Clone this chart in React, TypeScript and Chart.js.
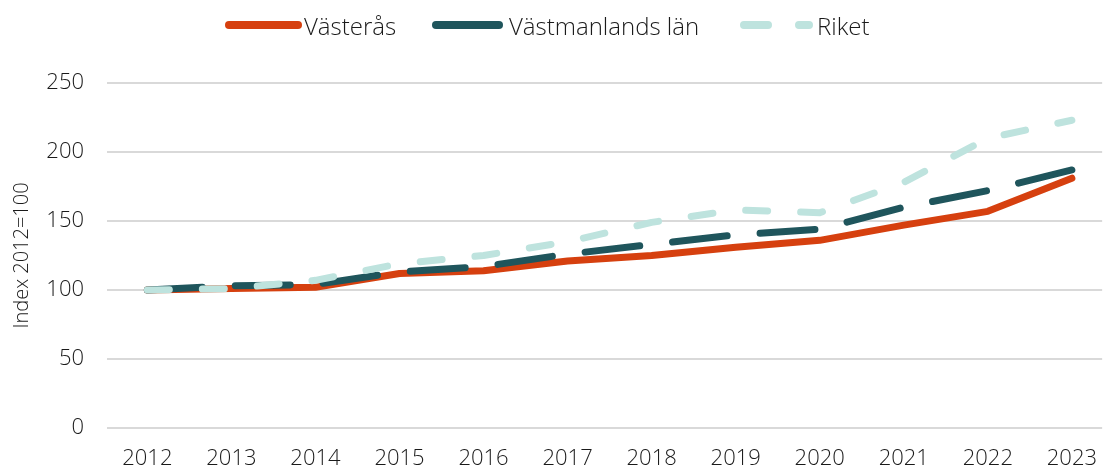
import React, { useEffect, useRef } from "react";
import { Chart, registerables } from "chart.js";
Chart.register(...registerables);

const years = [2012, 2013, 2014, 2015, 2016, 2017, 2018, 2019, 2020, 2021, 2022, 2023];
const vasteras = [100, 101, 102, 112, 114, 121, 125, 131, 136, 147, 157, 181];
const vastmanland = [100, 103, 104, 113, 117, 126, 133, 140, 144, 160, 172, 187];
const riket = [100, 101, 107, 119, 125, 135, 149, 158, 156, 178, 210, 223];
const yTicks = [0, 50, 100, 150, 200, 250];

const seriesNames = ["Västerås", "Västmanlands län", "Riket"];
const colors = ["#D6400F", "#1F555C", "#BEE3DE"];
const dashes: number[][] = [[], [55, 33], [22, 33]];

const FONT = "'Open Sans', Lato, sans-serif";
const WEIGHT = 300;
const TEXT = "#1a1a1a";

function LegendItem({ name, color, dash, lineStart, lineLen, textX }: any) {
  const w = 8;
  return (
    <>
      <svg
        width={lineLen + 2}
        height={20}
        style={{ position: "absolute", left: lineStart - 1, top: 15 }}
      >
        <line
          x1={1 + w / 2}
          x2={1 + lineLen - w / 2}
          y1={10}
          y2={10}
          stroke={color}
          strokeWidth={w}
          strokeLinecap="round"
          strokeDasharray={dash.length ? dash.join(",") : undefined}
        />
      </svg>
      <span
        style={{
          position: "absolute",
          left: textX,
          top: 10,
          fontFamily: FONT,
          fontWeight: WEIGHT,
          fontSize: 24,
          color: TEXT,
          whiteSpace: "nowrap",
          lineHeight: "32px",
        }}
      >
        {name}
      </span>
    </>
  );
}

export default function App() {
  const ref = useRef<HTMLCanvasElement>(null);
  useEffect(() => {
    document.body.style.margin = "0";
    const data = [vasteras, vastmanland, riket];
    const chart = new Chart(ref.current!, {
      type: "line",
      data: {
        datasets: seriesNames.map((name, i) => ({
          label: name,
          data: years.map((y, j) => ({ x: y, y: data[i][j] })),
          borderColor: colors[i],
          backgroundColor: colors[i],
          borderWidth: 7,
          borderDash: dashes[i],
          borderCapStyle: "round",
          borderJoinStyle: "round",
          pointRadius: 0,
          tension: 0,
          order: 2 - i,
        })),
      },
      options: {
        animation: false,
        responsive: false,
        maintainAspectRatio: false,
        layout: { padding: { top: 83, right: 0, bottom: 0, left: 0 } },
        plugins: { legend: { display: false }, tooltip: { enabled: false } },
        scales: {
          x: {
            type: "linear",
            min: 2011.52,
            max: 2023.36,
            afterBuildTicks: (s: any) => {
              s.ticks = years.map((v) => ({ value: v }));
            },
            afterFit: (s: any) => {
              s.height = 40;
            },
            grid: { display: false, drawTicks: false },
            border: { display: false },
            ticks: {
              padding: 18,
              font: { family: FONT, size: 22, weight: WEIGHT },
              color: TEXT,
              maxRotation: 0,
              autoSkip: false,
              callback: (v: any) => String(v),
            },
          },
          y: {
            min: 0,
            max: 250,
            afterBuildTicks: (s: any) => {
              s.ticks = yTicks.map((v) => ({ value: v }));
            },
            afterFit: (s: any) => {
              s.width = 107;
            },
            grid: { color: "#d9d9d9", lineWidth: 2, drawTicks: false },
            border: { display: false },
            ticks: {
              padding: 23,
              font: { family: FONT, size: 22, weight: WEIGHT },
              color: TEXT,
            },
            title: {
              display: true,
              text: "Index 2012=100",
              font: { family: FONT, size: 20, weight: WEIGHT },
              color: TEXT,
              padding: { top: 10, bottom: 0 },
            },
          },
        },
      },
    });
    return () => chart.destroy();
  }, []);

  return (
    <div style={{ position: "relative", width: 1115, height: 468, overflow: "hidden", background: "#fff" }}>
      <canvas ref={ref} width={1115} height={468} style={{ position: "absolute", left: 0, top: 0 }} />
      <LegendItem name={seriesNames[0]} color={colors[0]} dash={[]} lineStart={225} lineLen={77} textX={304} />
      <LegendItem name={seriesNames[1]} color={colors[1]} dash={[]} lineStart={432} lineLen={71} textX={509} />
      <LegendItem name={seriesNames[2]} color={colors[2]} dash={[24, 31]} lineStart={740} lineLen={73} textX={817} />
    </div>
  );
}
